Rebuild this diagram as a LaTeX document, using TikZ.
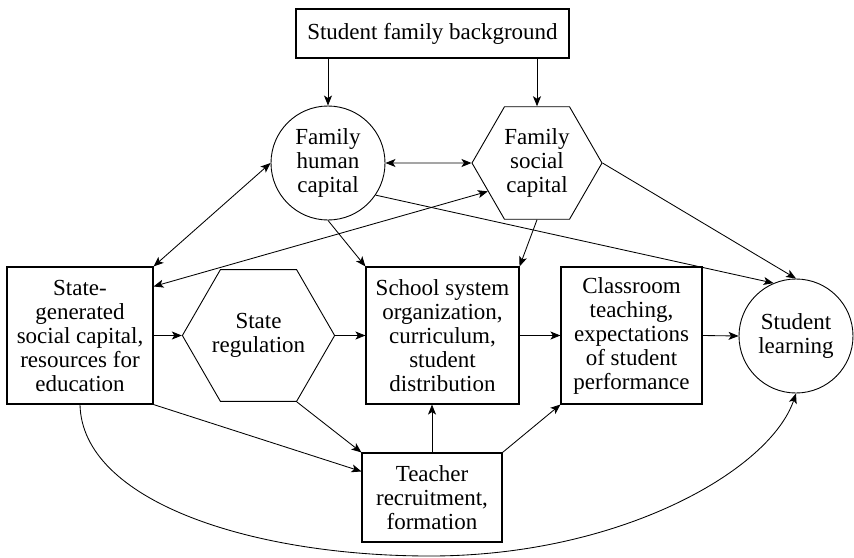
\documentclass[tikz,border=0pt]{standalone}
\usepackage{fontspec}
\setmainfont{Liberation Serif}
\usetikzlibrary{arrows.meta,shapes.geometric}
\begin{document}
\begin{tikzpicture}[x=1pt,y=-1pt,
  every node/.style={font=\fontsize{23}{24}\selectfont, align=center, inner sep=0pt},
  box/.style={draw, rectangle, line width=1.1pt},
  circ/.style={draw, circle, line width=0.9pt, minimum size=114pt},
  hexa/.style={draw, regular polygon, regular polygon sides=6, minimum size=130pt, line width=0.9pt},
  arr/.style={-{Stealth[length=10pt,width=8pt,inset=2.5pt]}, line width=0.85pt},
  darr/.style={{Stealth[length=10pt,width=8pt,inset=2.5pt]}-{Stealth[length=10pt,width=8pt,inset=2.5pt]}, line width=0.85pt}]
\useasboundingbox (0,0) rectangle (854,557);

\node[box, minimum width=273pt, minimum height=49pt] (top) at (432.5,33.5) {Student family background};
\node[circ] (fhc) at (328,163) {Family\\human\\capital};
\node[hexa] (fsc) at (537,163) {Family\\social\\capital};
\node[box, minimum width=146pt, minimum height=137pt] (sg) at (80,335.5) {State-\\generated\\social capital,\\resources for\\education};
\node[hexa] (sr) at (258.5,335.5) {State\\regulation};
\node[box, minimum width=153pt, minimum height=137pt] (sch) at (442.5,335.5) {School system\\organization,\\curriculum,\\student\\distribution};
\node[box, minimum width=141pt, minimum height=137pt] (cls) at (631.5,335.5) {Classroom\\teaching,\\expectations\\of student\\performance};
\node[circ] (sl) at (796,336) {Student\\learning};
\node[box, minimum width=140pt, minimum height=89pt] (tch) at (432,497.5) {Teacher\\recruitment,\\formation};

\draw[arr] (fhc.north |- top.south) -- (fhc.north);
\draw[arr] (fsc.north |- top.south) -- (fsc.north);
\draw[darr] (fhc.east) -- (fsc.west);
\draw[darr] (sg.north east) -- (fhc.west);
\draw[arr] (fhc.south) -- (sch.north west);
\draw[arr] (fhc.-34) -- (sl.113);
\draw[arr] (fsc.east) -- (sl.north);
\draw[darr] ([yshift=-20pt]sg.north east) -- (fsc.210);
\draw[arr] (fsc.south) -- (sch.north east);
\draw[arr] (sg.east) -- (sr.west);
\draw[arr] (sr.east) -- (sch.west);
\draw[arr] (sch.east) -- (cls.west);
\draw[arr] (cls.east) -- (sl.west);
\draw[arr] (sg.south east) -- ([yshift=-19pt]tch.north west);
\draw[arr] (sr.-60) -- (tch.north west);
\draw[arr] (tch.north) -- (tch.north |- sch.south);
\draw[arr] (tch.north east) -- (cls.south west);
\coordinate (cb) at (430,556);
\draw[arr] (sg.south) .. controls +(2,96) and +(-180,0) .. (cb) .. controls +(190,0) and +(-26,77) .. (sl.south);
\end{tikzpicture}
\end{document}
